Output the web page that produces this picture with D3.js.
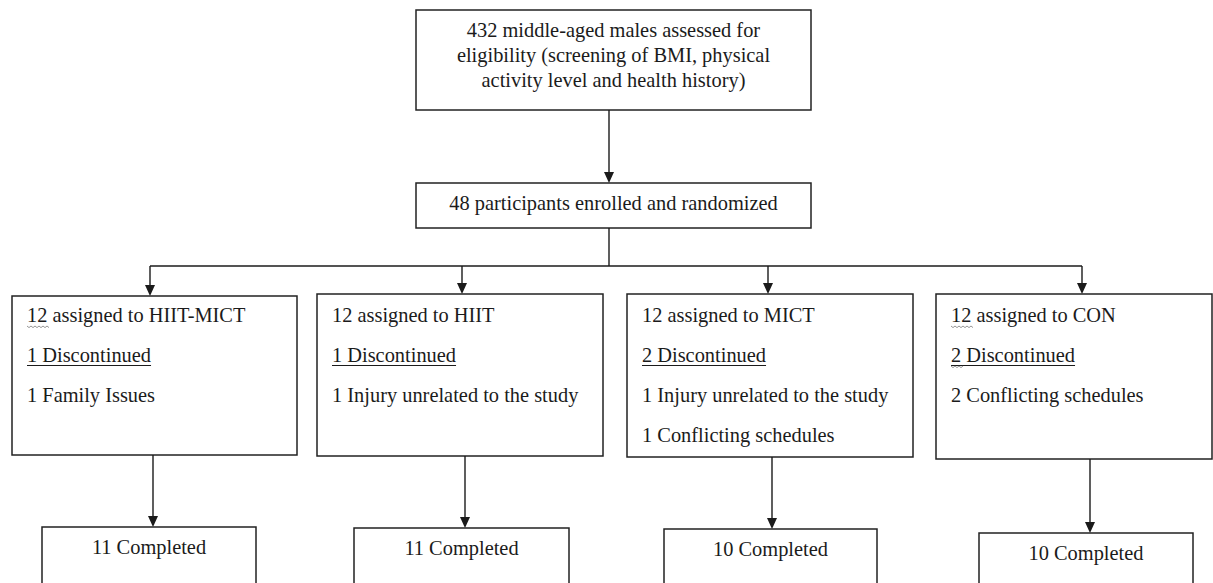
<!DOCTYPE html>
<html>
<head>
<meta charset="utf-8">
<script src="https://cdn.jsdelivr.net/npm/d3@7"></script>
<style>
  html, body { margin: 0; padding: 0; background: #fff; }
</style>
</head>
<body>
<script>
// flowchart content
var screeningLines = ["432 middle-aged males assessed for",
                      "eligibility (screening of BMI, physical",
                      "activity level and health history)"];
var enrolledText = "48 participants enrolled and randomized";

var groups       = ["HIIT-MICT", "HIIT", "MICT", "CON"];
var assigned     = [12, 12, 12, 12];
var discontinued = [1, 1, 2, 2];
var reasons      = [["1 Family Issues"],
                    ["1 Injury unrelated to the study"],
                    ["1 Injury unrelated to the study", "1 Conflicting schedules"],
                    ["2 Conflicting schedules"]];
var completed    = [11, 11, 10, 10];
// word-processor spelling marks seen in the source (group index, line index)
var spellMarks   = [[0, 0], [3, 0], [3, 1]];

// layout //////
var W = 1213, H = 583;
var topBox   = {x0: 416, x1: 811, y0: 10,  y1: 110};
var enrolBox = {x0: 416, x1: 811, y0: 183, y1: 228};
var splitY = 266, trunkX = 609;
var groupBoxes = [
  {x0: 12,  x1: 297,  y0: 296, y1: 455, ax: 150, bx: 153},
  {x0: 317, x1: 603,  y0: 294, y1: 456, ax: 462, bx: 465},
  {x0: 627, x1: 913,  y0: 294, y1: 457, ax: 768, bx: 772},
  {x0: 936, x1: 1212, y0: 294, y1: 459, ax: 1082, bx: 1090}
];
var doneBoxes = [
  {x0: 42,  x1: 256,  y0: 527},
  {x0: 354, x1: 569,  y0: 528},
  {x0: 664, x1: 877,  y0: 529},
  {x0: 979, x1: 1193, y0: 533}
];
var fs = 20.4, lineGap = 40, pad = 15;
var ink = "#1b1b1b";
var serif = "'Liberation Serif', Tinos, 'Times New Roman', 'DejaVu Serif', serif";

var svg = d3.select("body").append("svg").attr("width", W).attr("height", H)
  .attr("font-family", serif);

function label(){
  return svg.append("text")
    .attr("font-family", serif)
    .attr("font-size", fs)
    .attr("fill", ink);
}

function box(b, bottom){
  svg.append("rect")
    .attr("x", b.x0).attr("y", b.y0)
    .attr("width", b.x1 - b.x0).attr("height", (bottom || b.y1) - b.y0)
    .attr("fill", "none").attr("stroke", "#222").attr("stroke-width", 1.5);
}

function arrow(x, y0, y1){
  svg.append("line").attr("x1", x).attr("x2", x).attr("y1", y0).attr("y2", y1 - 8)
    .attr("stroke", ink).attr("stroke-width", 1.4);
  svg.append("path")
    .attr("d", `M${x - 5},${y1 - 11}L${x + 5},${y1 - 11}L${x},${y1}Z`)
    .attr("fill", ink);
}

// top box
box(topBox);
var cx = (topBox.x0 + topBox.x1) / 2;
screeningLines.forEach(function(t, i){
  label().attr("x", cx).attr("y", 37 + i * 25).attr("text-anchor", "middle").text(t);
});

arrow(trunkX, topBox.y1, enrolBox.y0);

box(enrolBox);
label().attr("x", cx).attr("y", 210).attr("text-anchor", "middle").text(enrolledText);

// split line
svg.append("line").attr("x1", trunkX).attr("x2", trunkX).attr("y1", enrolBox.y1).attr("y2", splitY)
  .attr("stroke", ink).attr("stroke-width", 1.4);
svg.append("line")
  .attr("x1", d3.min(groupBoxes, b => b.ax)).attr("x2", d3.max(groupBoxes, b => b.ax))
  .attr("y1", splitY).attr("y2", splitY)
  .attr("stroke", ink).attr("stroke-width", 1.4);

groups.forEach(function(g, i){
  var b = groupBoxes[i];
  arrow(b.ax, splitY, b.y0);
  box(b);

  var lines = [assigned[i] + " assigned to " + g, discontinued[i] + " Discontinued"].concat(reasons[i]);
  var tx = b.x0 + pad;
  var nodes = lines.map(function(t, k){
    return label().attr("x", tx).attr("y", 322 + k * lineGap).text(t).node();
  });

  // underline "n Discontinued"
  var len = nodes[1].getComputedTextLength();
  svg.append("line").attr("x1", tx).attr("x2", tx + len)
    .attr("y1", 322 + lineGap + 3.5).attr("y2", 322 + lineGap + 3.5)
    .attr("stroke", ink).attr("stroke-width", 1.2);

  // spelling squiggles under the leading number
  spellMarks.filter(m => m[0] === i).forEach(function(m){
    var node = nodes[m[1]];
    var w = node.getSubStringLength(0, node.textContent.indexOf(" "));
    var y = 322 + m[1] * lineGap + 4;
    var pts = d3.range(0, Math.ceil(w / 2) + 1).map(k => [tx + k * 2, y + (k % 2 ? 1.6 : 0)]);
    svg.append("path").attr("d", d3.line()(pts))
      .attr("fill", "none").attr("stroke", "#8a8a8a").attr("stroke-width", 0.9);
  });

  // completed
  var c = doneBoxes[i];
  arrow(b.bx, b.y1, c.y0);
  box(c, H + 20);
  label().attr("x", (c.x0 + c.x1) / 2).attr("y", c.y0 + 27).attr("text-anchor", "middle")
    .text(completed[i] + " Completed");
});
</script>
</body>
</html>
